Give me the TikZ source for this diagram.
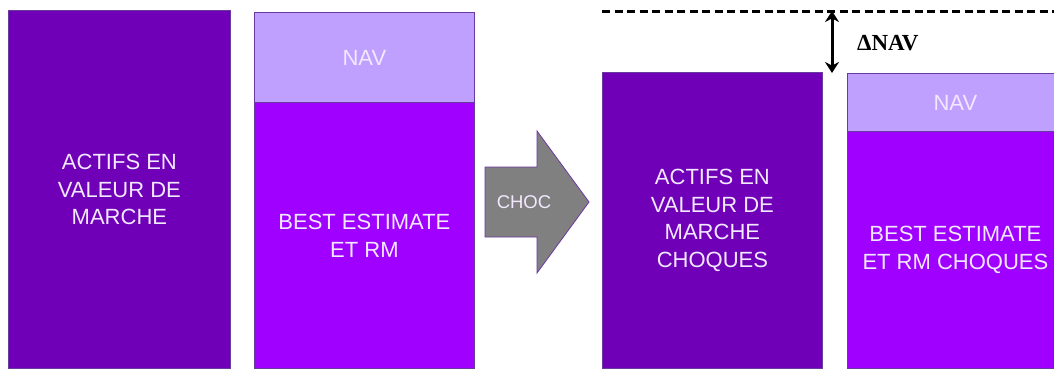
\documentclass[tikz,border=0pt]{standalone}
\usepackage{fontspec}
\setmainfont{Liberation Sans}
\newfontfamily\deltafont{Liberation Serif}
\usetikzlibrary{arrows.meta}
\definecolor{actifs}{HTML}{7000B8}
\definecolor{passifs}{HTML}{A000FF}
\definecolor{navfill}{HTML}{C0A0FF}
\definecolor{edge}{HTML}{6A3A9E}
\definecolor{label}{HTML}{F2E8FF}
\definecolor{chocgray}{HTML}{808080}
\tikzset{
  x=1pt, y=1pt,
  block/.style={draw=edge, line width=0.8pt, inner sep=0pt, anchor=south west,
                text=label, align=center, font=\fontsize{22}{27.5}\selectfont},
  assets/.style={block, fill=actifs},
  liab/.style={block, fill=passifs},
  navbox/.style={block, fill=navfill},
  chocarrow/.style={fill=chocgray, draw=edge, line width=0.8pt},
  level/.style={line width=3pt, dash pattern=on 8pt off 4.5pt},
  gap/.style={line width=3pt, {Stealth[length=11pt,width=14pt]}-{Stealth[length=11pt,width=14pt]}}
}
\begin{document}
\begin{tikzpicture}
\useasboundingbox (0,0) rectangle (1054,368);
\fill[white] (0,0) rectangle (1054,368);

% balance sheet before the shock
\node[assets, minimum width=222pt, minimum height=358pt] (a1) at (8,-1)
  {ACTIFS EN\\VALEUR DE\\MARCHE};
\node[liab, minimum width=220pt, minimum height=266pt] (l1) at (254,-1)
  {BEST ESTIMATE\\ET RM};
\node[navbox, minimum width=220pt, minimum height=90pt] (n1) at (254,265) {NAV};

% shock arrow
\path[chocarrow] (485,131) -- (537,131) -- (537,95) -- (589,166) -- (537,237)
  -- (537,201) -- (485,201) -- cycle;
\node[text=label, font=\fontsize{18.5}{20}\selectfont] (choc) at (524,166) {CHOC};

% balance sheet after the shock
\node[assets, minimum width=220pt, minimum height=296pt] (a2) at (602,-1)
  {ACTIFS EN\\VALEUR DE\\MARCHE\\CHOQUES};
\node[liab, minimum width=216pt, minimum height=237pt] (l2) at (847,-1)
  {BEST ESTIMATE\\ET RM CHOQUES};
\node[navbox, minimum width=216pt, minimum height=58pt] (n2) at (847,236) {NAV};

% reference level and change in NAV
\coordinate (lvlL) at (602,357);
\coordinate (lvlR) at (1056,357);
\draw[level] (lvlL) -- (lvlR);
\coordinate (gtop) at (832,357);
\coordinate (gbot) at (832,295);
\draw[gap] (gtop) -- (gbot);
\node[font=\deltafont\bfseries\fontsize{23}{26}\selectfont, anchor=west, inner sep=0pt] (dnav) at (857,325) {ΔNAV};
\end{tikzpicture}
\end{document}
